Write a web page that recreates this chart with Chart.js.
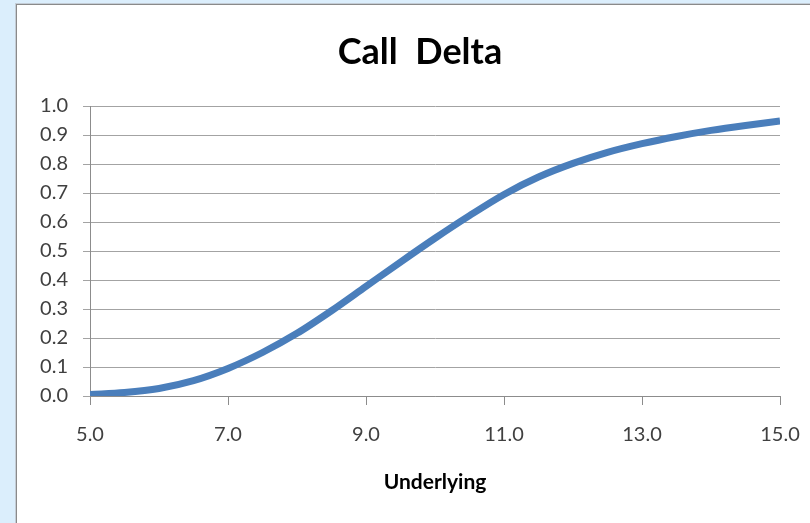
<!DOCTYPE html>
<html>
<head>
<meta charset="utf-8">
<script src="https://cdn.jsdelivr.net/npm/chart.js@4/dist/chart.umd.min.js"></script>
<style>
  html, body { margin: 0; padding: 0; }
  body { width: 810px; height: 523px; background: #dbeefc; overflow: hidden; position: relative; }
  #frame { position: absolute; left: 16px; top: 4px; width: 830px; height: 560px;
           background: #ffffff; border: 1px solid #8a8a8a; box-shadow: 0 0 0 1px #c4cdd6; }
  #wrap { position: absolute; left: 0; top: 0; width: 810px; height: 523px; }
</style>
</head>
<body>
<div id="frame"></div>
<div id="wrap"><canvas id="chart" width="810" height="523"></canvas></div>
<script>
// Call option delta against the price of the underlying
const chartTitle = 'Call  Delta';
const xAxisTitle = 'Underlying';
const underlying = [5.0, 5.5, 6.0, 6.5, 7.0, 7.5, 8.0, 8.5, 9.0, 9.5, 10.0,
                    10.5, 11.0, 11.5, 12.0, 12.5, 13.0, 13.5, 14.0, 14.5, 15.0];
const delta = [0.005, 0.012, 0.026, 0.053, 0.095, 0.150, 0.216, 0.294, 0.378, 0.462, 0.544,
               0.622, 0.695, 0.755, 0.802, 0.840, 0.870, 0.895, 0.916, 0.933, 0.948];
const xTickValues = [5, 7, 9, 11, 13, 15];
const yTickValues = [0, 0.1, 0.2, 0.3, 0.4, 0.5, 0.6, 0.7, 0.8, 0.9, 1.0];

const points = underlying.map((x, i) => ({ x: x, y: delta[i] }));

const axisGray = '#8c8c8c';
const gridGray = '#a3a3a3';
const labelColor = '#404040';
const fontFamily = 'Lato, "Open Sans", sans-serif';

// Title centred over the whole chart frame
const titlePlugin = {
  id: 'frameTitle',
  afterDraw(chart) {
    const ctx = chart.ctx;
    ctx.save();
    ctx.font = 'bold 36px ' + fontFamily;
    ctx.fillStyle = '#000000';
    ctx.textAlign = 'center';
    ctx.textBaseline = 'alphabetic';
    ctx.fillText(chartTitle, 420, 64);
    ctx.restore();
  }
};

new Chart(document.getElementById('chart'), {
  type: 'line',
  data: {
    datasets: [{
      data: points,
      borderColor: '#4a7ebb',
      borderWidth: 7,
      borderCapStyle: 'butt',
      pointRadius: 0,
      pointHoverRadius: 0,
      fill: false,
      cubicInterpolationMode: 'monotone'
    }]
  },
  options: {
    responsive: false,
    animation: false,
    events: [],
    layout: { padding: { left: 17, top: 106, right: 30, bottom: 0 } },
    plugins: {
      legend: { display: false },
      title: { display: false },
      tooltip: { enabled: false }
    },
    scales: {
      x: {
        type: 'linear',
        min: 5,
        max: 15,
        afterBuildTicks(scale) { scale.ticks = xTickValues.map(v => ({ value: v })); },
        afterFit(scale) {
          scale.height = 127;
          scale.paddingLeft = 0;
          scale.paddingRight = 0;
        },
        grid: { display: true, drawOnChartArea: false, drawTicks: true, tickLength: 9,
                color: axisGray, lineWidth: 1 },
        border: { display: true, color: axisGray, width: 1 },
        ticks: {
          padding: 18,
          color: labelColor,
          font: { family: fontFamily, size: 20 },
          maxRotation: 0,
          callback: v => Number(v).toFixed(1)
        },
        title: {
          display: true,
          text: xAxisTitle,
          color: '#000000',
          font: { family: fontFamily, size: 21, weight: 'bold' },
          padding: { top: 0, bottom: 28 }
        }
      },
      y: {
        type: 'linear',
        min: 0,
        max: 1,
        afterBuildTicks(scale) { scale.ticks = yTickValues.map(v => ({ value: v })); },
        afterFit(scale) { scale.width = 73; },
        grid: { display: true, drawOnChartArea: true, drawTicks: true, tickLength: 7,
                color: gridGray, lineWidth: 1 },
        border: { display: true, color: axisGray, width: 1 },
        ticks: {
          padding: 15,
          color: labelColor,
          font: { family: fontFamily, size: 20 },
          callback: v => Number(v).toFixed(1)
        }
      }
    }
  },
  plugins: [titlePlugin]
});
</script>
</body>
</html>
